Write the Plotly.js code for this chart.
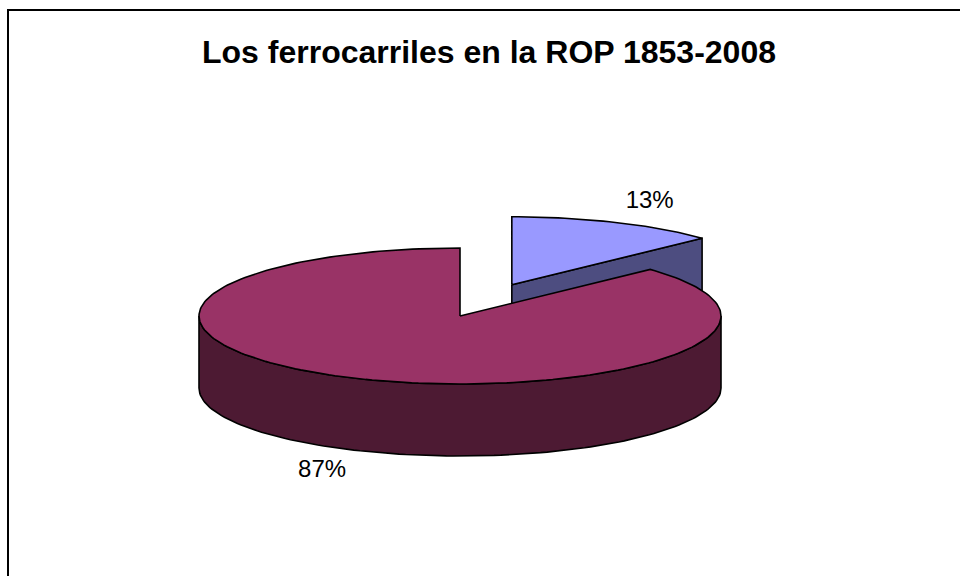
<!DOCTYPE html>
<html>
<head>
<meta charset="utf-8">
<script src="https://cdn.plot.ly/plotly-3.0.1.min.js"></script>
<style>html,body{margin:0;padding:0;background:#fff}#chart{width:960px;height:576px}</style>
</head>
<body>
<div id="chart"></div>
<script>
// ---- data ----
const sliceNames = ['Serie 1', 'Serie 2'];
const sliceValues = [13, 87];
const sliceLabels = ['13%', '87%'];
const topColors = ['#9999FF', '#993366'];
const sideColors = ['#4D4D80', '#4D1A33'];
const explode = [0.5, 0];
const chartTitle = 'Los ferrocarriles en la ROP 1853-2008';

// ---- 3D pie geometry (drawing style) ----
const CX = 460, CY = 316, RX = 261, RY = 68, DEPTH = 72;
const START = 90; // degrees, clockwise
const LABEL_R = 1.33;
const rad = d => d * Math.PI / 180;
function pt(cx, cy, a, z) { return [cx + RX * Math.cos(rad(a)), cy - RY * Math.sin(rad(a)) + z]; }
function arc(cx, cy, aFrom, aTo, z) {
  const n = Math.max(2, Math.ceil(Math.abs(aTo - aFrom) / 1.5));
  const out = [];
  for (let i = 0; i <= n; i++) out.push(pt(cx, cy, aFrom + (aTo - aFrom) * i / n, z));
  return out;
}
function poly(points, fill, name) {
  return {
    type: 'scatter', mode: 'lines', fill: 'toself', fillcolor: fill,
    x: points.map(p => p[0]), y: points.map(p => p[1]),
    line: { color: '#000000', width: 1.6 }, hoverinfo: 'skip', showlegend: false, name: name
  };
}

const total = sliceValues.reduce((a, b) => a + b, 0);
const slices = [];
let cum = 0;
sliceValues.forEach((v, i) => {
  const a0 = START - cum / total * 360;
  const a1 = a0 - v / total * 360;
  cum += v;
  const mid = (a0 + a1) / 2;
  const cx = CX + explode[i] * RX * Math.cos(rad(mid));
  const cy = CY - explode[i] * RY * Math.sin(rad(mid));
  slices.push({ i, a0, a1, mid, cx, cy });
});

const traces = [];
// draw exploded (back) slices first
const order = slices.slice().sort((s, t) => (s.cy - t.cy));
order.forEach(s => {
  const { i, a0, a1, cx, cy } = s;
  const c = [cx, cy];
  // radial faces
  if (Math.cos(rad(a1)) > 1e-6) {
    const p = pt(cx, cy, a1, 0);
    traces.push(poly([c, p, [p[0], p[1] + DEPTH], [cx, cy + DEPTH], c], sideColors[i], sliceNames[i]));
  }
  if (Math.cos(rad(a0)) < -1e-6) {
    const p = pt(cx, cy, a0, 0);
    traces.push(poly([c, p, [p[0], p[1] + DEPTH], [cx, cy + DEPTH], c], sideColors[i], sliceNames[i]));
  }
  // outer wall (front half only)
  for (let k = -2; k <= 1; k++) {
    const lo = Math.max(a1, k * 360 + 180), hi = Math.min(a0, k * 360 + 360);
    if (hi > lo) {
      const top = arc(cx, cy, hi, lo, 0);
      const bot = arc(cx, cy, lo, hi, DEPTH);
      traces.push(poly(top.concat(bot, [top[0]]), sideColors[i], sliceNames[i]));
    }
  }
  // top face
  const topPts = [c].concat(arc(cx, cy, a0, a1, 0), [c]);
  traces.push(poly(topPts, topColors[i], sliceNames[i]));
});

// labels
const lx = [], ly = [];
slices.forEach(s => {
  const x = s.cx + LABEL_R * RX * Math.cos(rad(s.mid));
  let y = s.cy - LABEL_R * RY * Math.sin(rad(s.mid));
  if (Math.sin(rad(s.mid)) < 0) y += DEPTH;
  lx.push(x); ly.push(y);
});
traces.push({
  type: 'scatter', mode: 'text', x: lx, y: ly, text: sliceLabels,
  textposition: 'middle center',
  textfont: { family: 'Liberation Sans, Arial, sans-serif', size: 24, color: '#000000' },
  hoverinfo: 'skip', showlegend: false
});

const layout = {
  width: 960, height: 576,
  margin: { l: 0, r: 0, t: 0, b: 0 },
  paper_bgcolor: '#ffffff', plot_bgcolor: '#ffffff',
  showlegend: false,
  title: {
    text: '<b>' + chartTitle + '</b>',
    font: { family: 'Liberation Sans, Arial, sans-serif', size: 32, color: '#000000' },
    x: 489 / 960, xanchor: 'center', xref: 'paper',
    y: 1 - 52 / 576, yanchor: 'middle', yref: 'paper'
  },
  xaxis: { range: [0, 960], visible: false, fixedrange: true },
  yaxis: { range: [576, 0], visible: false, fixedrange: true },
  shapes: [{
    type: 'rect', xref: 'paper', yref: 'paper',
    x0: 8 / 960, x1: 1.05, y0: 1 - 10 / 576, y1: -0.05,
    line: { color: '#000000', width: 2 }, fillcolor: 'rgba(0,0,0,0)', layer: 'above'
  }]
};

Plotly.newPlot('chart', traces, layout, { displayModeBar: false, staticPlot: true });
</script>
</body>
</html>
